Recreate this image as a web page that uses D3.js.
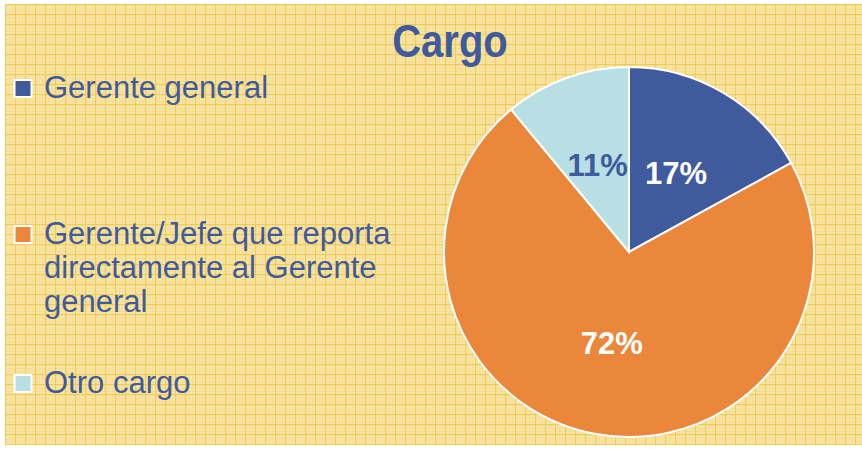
<!DOCTYPE html>
<html>
<head>
<meta charset="utf-8">
<script src="https://cdn.jsdelivr.net/npm/d3@7"></script>
<style>
  html, body { margin: 0; padding: 0; background: #fff; }
  svg { display: block; }
</style>
</head>
<body>
<svg id="chart" width="862" height="449"></svg>
<script>
// data
const categories = ["Gerente general", "Gerente/Jefe que reporta directamente al Gerente general", "Otro cargo"];
const legendLines = [["Gerente general"], ["Gerente/Jefe que reporta", "directamente al Gerente", "general"], ["Otro cargo"]];
const values = [17, 72, 11];
const colors = ["#3f5a9d", "#eb873a", "#b8dfe3"];
const labelColors = ["#ffffff", "#ffffff", "#3f5a9d"];

const W = 862, H = 449;
const svg = d3.select("#chart");

// yellow paper background
const defs = svg.append("defs");
const pat = defs.append("pattern")
  .attr("id", "paper")
  .attr("patternUnits", "userSpaceOnUse")
  .attr("width", 10).attr("height", 10)
  .attr("x", 5).attr("y", 4);
pat.append("rect").attr("width", 10).attr("height", 10).attr("fill", "#f6df93");
for (let i = 0; i < 3; i++) {
  for (let j = 0; j < 3; j++) {
    pat.append("rect").attr("x", 2.5 + i * 3).attr("y", 2.5 + j * 3)
      .attr("width", 1).attr("height", 1).attr("fill", "#fff").attr("opacity", 0.75);
  }
}
pat.append("rect").attr("x", 0).attr("y", 0).attr("width", 1).attr("height", 10).attr("fill", "#efcb58");
pat.append("rect").attr("x", 0).attr("y", 0).attr("width", 10).attr("height", 1).attr("fill", "#efcb58");

svg.append("rect")
  .attr("x", 5).attr("y", 4)
  .attr("width", W - 5).attr("height", 441)
  .attr("fill", "url(#paper)");

// title
svg.append("text")
  .attr("x", 450).attr("y", 57)
  .attr("text-anchor", "middle")
  .attr("font-family", "Liberation Sans, Arial, sans-serif")
  .attr("font-weight", "bold")
  .attr("font-size", 40)
  .attr("fill", "#3f5a9d")
  .attr("transform", "translate(0,57) scale(1,1.15) translate(0,-57)")
  .text("Cargo");

// pie
const cx = 629, cy = 252, R = 185;
const pie = d3.pie().sort(null).value(d => d);
const arc = d3.arc().innerRadius(0).outerRadius(R);
const labelArc = d3.arc().innerRadius(R * 0.5).outerRadius(R * 0.5);

const g = svg.append("g").attr("transform", `translate(${cx},${cy})`);
const arcs = pie(values);

g.selectAll("path")
  .data(arcs)
  .enter().append("path")
  .attr("d", arc)
  .attr("fill", (d, i) => colors[i])
  .attr("stroke", "#fff")
  .attr("stroke-width", 2);

g.selectAll("text.lbl")
  .data(arcs)
  .enter().append("text")
  .attr("class", "lbl")
  .attr("transform", d => `translate(${labelArc.centroid(d)})`)
  .attr("text-anchor", "middle")
  .attr("dy", "0.36em")
  .attr("font-family", "Liberation Sans, Arial, sans-serif")
  .attr("font-weight", "bold")
  .attr("font-size", 31)
  .attr("fill", (d, i) => labelColors[i])
  .text(d => d.data + "%");

// legend
const legendY = [98, 244, 393];
const leg = svg.append("g");
categories.forEach((c, i) => {
  leg.append("rect")
    .attr("x", 14.5).attr("y", legendY[i] - 18)
    .attr("width", 17).attr("height", 17)
    .attr("fill", colors[i])
    .attr("stroke", "#fff")
    .attr("stroke-width", 2);
  const t = leg.append("text")
    .attr("x", 44).attr("y", legendY[i])
    .attr("font-family", "Liberation Sans, Arial, sans-serif")
    .attr("font-size", 31)
    .attr("fill", "#3f5a9d");
  legendLines[i].forEach((line, k) => {
    t.append("tspan").attr("x", 44).attr("dy", k === 0 ? 0 : 34).text(line);
  });
});
</script>
</body>
</html>
